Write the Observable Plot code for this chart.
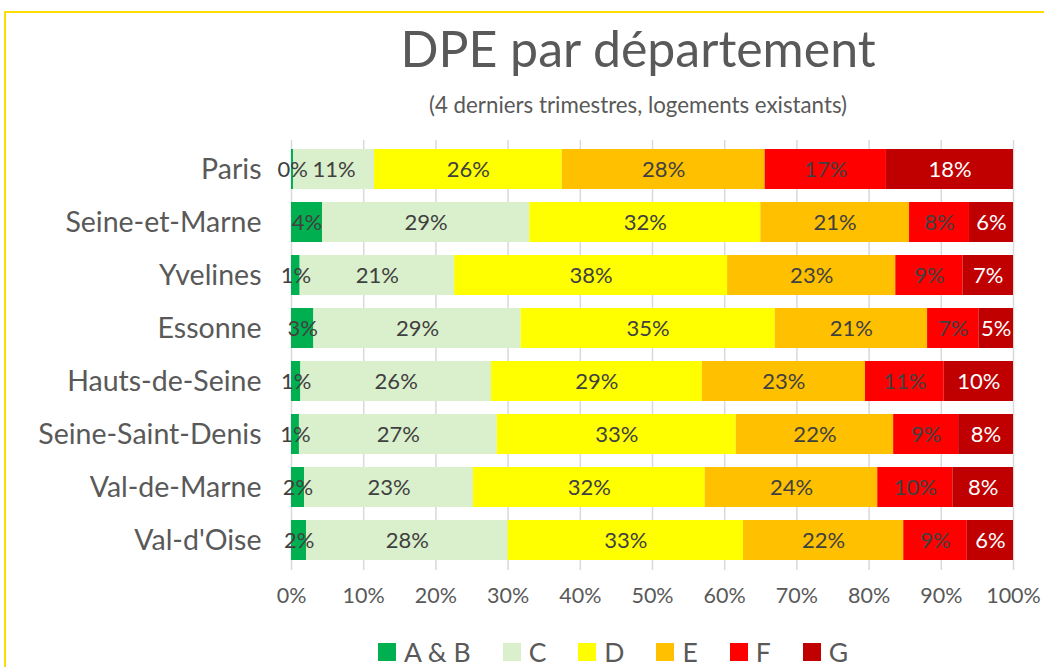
<!DOCTYPE html>
<html>
<head>
<meta charset="utf-8">
<script src="https://cdn.jsdelivr.net/npm/d3@7"></script>
<script src="https://cdn.jsdelivr.net/npm/@observablehq/plot@0.6"></script>
<style>
  html, body { margin: 0; padding: 0; background: #fff; }
  body { width: 1044px; height: 667px; position: relative; overflow: hidden; font-family: Lato, "Open Sans", sans-serif; color: #595959; }
  #frame { position: absolute; left: 4px; top: 11px; width: 1100px; height: 700px; border: 2px solid #FFDD00; box-sizing: border-box; }
  #title { position: absolute; left: 638px; top: 23px; transform: translateX(-50%); white-space: nowrap; font-size: 50px; line-height: 1; color: #595959; }
  #subtitle { position: absolute; left: 638px; top: 94px; transform: translateX(-50%); white-space: nowrap; font-size: 22.3px; line-height: 1; color: #595959; }
  #chart { position: absolute; left: 0; top: 0; }
  #legend { position: absolute; left: 378px; top: 638px; height: 28px; display: flex; align-items: center; font-size: 26.5px; line-height: 1; color: #595959; }
  .item { display: flex; align-items: center; margin-right: 32px; }
  .sw { width: 18px; height: 18px; margin-right: 8px; }
</style>
</head>
<body>
<div id="frame"></div>
<div id="title">DPE par département</div>
<div id="subtitle">(4 derniers trimestres, logements existants)</div>
<div id="chart"></div>
<div id="legend"></div>
<script>
const departements = ["Paris", "Seine-et-Marne", "Yvelines", "Essonne", "Hauts-de-Seine", "Seine-Saint-Denis", "Val-de-Marne", "Val-d'Oise"];
const categories = ["A & B", "C", "D", "E", "F", "G"];
const valuesAB = [0.3, 4.3, 1.2, 3.1, 1.3, 1.1, 1.8, 2.1];
const valuesC  = [11.2, 28.7, 21.4, 28.7, 26.4, 27.4, 23.4, 27.9];
const valuesD  = [26.0, 32.0, 37.8, 35.2, 29.2, 33.1, 32.1, 32.6];
const valuesE  = [28.1, 20.6, 23.3, 21.1, 22.6, 21.8, 23.9, 22.2];
const valuesF  = [16.8, 8.3, 9.3, 7.1, 10.9, 9.0, 10.4, 8.8];
const valuesG  = [17.6, 6.1, 7.0, 4.8, 9.6, 7.6, 8.4, 6.4];
const xTicks = [0, 10, 20, 30, 40, 50, 60, 70, 80, 90, 100];

const colors = ["#00B050", "#DAEFCB", "#FFFF00", "#FFC000", "#FF0000", "#C00000"];
const series = [valuesAB, valuesC, valuesD, valuesE, valuesF, valuesG];

const data = [];
departements.forEach((dept, i) => {
  categories.forEach((cat, j) => {
    data.push({dept, cat, value: series[j][i]});
  });
});

const label = d => Math.round(d.value) + "%";
const barColor = d => colors[categories.indexOf(d.cat)];
const labelColor = d => d.cat === "G" ? "#FFFFFF" : "#404040";

const chart = Plot.plot({
  width: 1044,
  height: 667,
  marginTop: 140,
  marginBottom: 97,
  marginLeft: 291,
  marginRight: 31,
  style: {fontFamily: "Lato, 'Open Sans', sans-serif", background: "transparent", overflow: "visible", color: "#595959"},
  x: {domain: [0, 100], axis: null},
  y: {domain: departements, axis: null, paddingInner: 0.24, paddingOuter: 0.12},
  color: {type: "identity"},
  marks: [
    Plot.ruleX(xTicks, {x: d => d, stroke: "#D9D9D9", strokeWidth: 1.5}),
    Plot.barX(data, Plot.stackX({x: "value", y: "dept", z: "cat", fill: barColor})),
    Plot.text(data, Plot.stackX({x: "value", y: "dept", z: "cat", text: label, fill: labelColor, fontSize: 22})),
    Plot.text(departements, {y: d => d, frameAnchor: "left", dx: -30, textAnchor: "end", fontSize: 28.5, fill: "#595959"}),
    Plot.text(xTicks, {x: d => d, frameAnchor: "bottom", dy: 32, text: d => d + "%", fontSize: 21.5, fill: "#595959"})
  ]
});
document.getElementById("chart").appendChild(chart);

const legend = document.getElementById("legend");
categories.forEach((cat, j) => {
  const item = document.createElement("div");
  item.className = "item";
  const sw = document.createElement("div");
  sw.className = "sw";
  sw.style.background = colors[j];
  const t = document.createElement("span");
  t.textContent = cat;
  item.appendChild(sw);
  item.appendChild(t);
  legend.appendChild(item);
});
</script>
</body>
</html>
